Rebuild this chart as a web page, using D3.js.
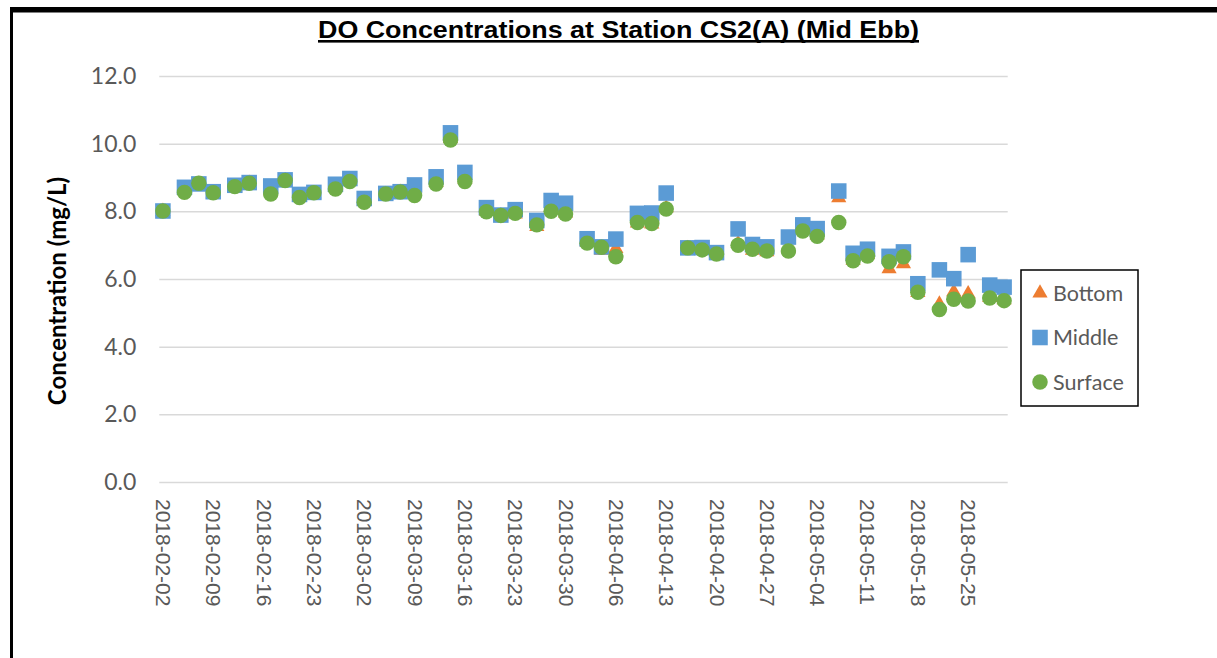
<!DOCTYPE html>
<html>
<head>
<meta charset="utf-8">
<script src="https://cdn.jsdelivr.net/npm/d3@7"></script>
<style>
	body { margin: 0; background: #fff; }
	#chart { width: 1217px; height: 658px; }
</style>
</head>
<body>
<div id="chart"></div>
<script>
"use strict"

// sampling days (Mon / Wed / Fri)
const dates = [
	"2018-02-02","2018-02-05","2018-02-07","2018-02-09","2018-02-12","2018-02-14","2018-02-17",
	"2018-02-19","2018-02-21","2018-02-23","2018-02-26","2018-02-28","2018-03-02","2018-03-05",
	"2018-03-07","2018-03-09","2018-03-12","2018-03-14","2018-03-16","2018-03-19","2018-03-21",
	"2018-03-23","2018-03-26","2018-03-28","2018-03-30","2018-04-02","2018-04-04","2018-04-06",
	"2018-04-09","2018-04-11","2018-04-13","2018-04-16","2018-04-18","2018-04-20","2018-04-23",
	"2018-04-25","2018-04-27","2018-04-30","2018-05-02","2018-05-04","2018-05-07","2018-05-09",
	"2018-05-11","2018-05-14","2018-05-16","2018-05-18","2018-05-21","2018-05-23","2018-05-25",
	"2018-05-28","2018-05-30"
];

const bottomVals = [
	8.00, 8.62, 8.80, 8.52, 8.72, 8.83, 8.60, 8.90, 8.42, 8.52, 8.70, 8.90, 8.30, 8.50,
	8.56, 8.55, 8.85, 10.15, 8.95, 8.00, 7.86, 7.92, 7.55, 8.05, 7.95, 7.08, 6.85, 6.90,
	7.65, 7.62, 8.10, 6.90, 6.88, 6.72, 7.05, 6.85, 6.80, 6.90, 7.45, 7.30, 8.40, 6.55,
	6.72, 6.30, 6.45, 5.60, 5.26, 5.62, 5.56, 5.45, 5.38
];

const middleVals = [
	8.01, 8.71, 8.81, 8.58, 8.77, 8.85, 8.75, 8.93, 8.50, 8.56, 8.80, 8.97, 8.38, 8.53,
	8.58, 8.78, 9.02, 10.32, 9.15, 8.11, 7.89, 8.05, 7.73, 8.32, 8.24, 7.19, 6.95, 7.18,
	7.94, 7.95, 8.54, 6.92, 6.93, 6.78, 7.48, 7.02, 6.95, 7.24, 7.60, 7.49, 8.60, 6.76,
	6.88, 6.67, 6.80, 5.86, 6.27, 6.01, 6.72, 5.82, 5.76
];

const surfaceVals = [
	8.01, 8.56, 8.83, 8.55, 8.73, 8.83, 8.51, 8.91, 8.41, 8.55, 8.66, 8.88, 8.27, 8.51,
	8.57, 8.47, 8.81, 10.11, 8.88, 7.99, 7.88, 7.94, 7.60, 8.00, 7.92, 7.06, 6.94, 6.66,
	7.67, 7.64, 8.07, 6.92, 6.86, 6.74, 7.00, 6.88, 6.83, 6.83, 7.42, 7.26, 7.67, 6.54,
	6.68, 6.51, 6.66, 5.61, 5.10, 5.40, 5.35, 5.44, 5.36
];

const tickDates = [
	"2018-02-02","2018-02-09","2018-02-16","2018-02-23","2018-03-02","2018-03-09","2018-03-16",
	"2018-03-23","2018-03-30","2018-04-06","2018-04-13","2018-04-20","2018-04-27","2018-05-04",
	"2018-05-11","2018-05-18","2018-05-25"
];
const yTicks = [0, 2, 4, 6, 8, 10, 12];
const seriesNames = ["Bottom", "Middle", "Surface"];

let ChartView = function(targetID) {
	let self = {
		target: null,
		svg: null,
		left: 159.3,
		right: 1007.7,
		top: 76,
		bottom: 482,
		xScale: d3.scaleUtc(),
		yScale: d3.scaleLinear(),
		colors: ["#ED7D31", "#5B9BD5", "#70AD47"],
		symbols: [
			d3.symbol().type(d3.symbolTriangle).size(100),
			d3.symbol().type(d3.symbolSquare).size(242),
			d3.symbol().type(d3.symbolCircle).size(188)
		],
	};

	const parse = d3.utcParse("%Y-%m-%d");

	function draw() {
		self.target = d3.select(targetID);
		self.svg = self.target.append("svg")
			.attr("width", 1217)
			.attr("height", 658);

		// day centred: shift half a day so a date sits in the middle of its band
		self.xScale.domain([new Date(Date.UTC(2018, 1, 1, 12)), new Date(Date.UTC(2018, 4, 30, 12))])
			.range([self.left, self.right]);
		self.yScale.domain([0, 12]).range([self.bottom, self.top]);

		// frame (top + left edges only show in the crop)
		self.svg.append("rect").attr("x", 10).attr("y", 7).attr("width", 1207).attr("height", 5.5).attr("fill", "#000");
		self.svg.append("rect").attr("x", 10).attr("y", 7).attr("width", 3).attr("height", 651).attr("fill", "#000");

		// title
		let title = self.svg.append("text")
			.attr("x", 618.5)
			.attr("y", 37.5)
			.attr("text-anchor", "middle")
			.attr("font-family", "'Liberation Sans', Arial, sans-serif")
			.attr("font-weight", "bold")
			.attr("font-size", 24.5)
			.text("DO Concentrations at Station CS2(A) (Mid Ebb)");
		title.attr("textLength", 601).attr("lengthAdjust", "spacingAndGlyphs");
		// underline drawn by hand so it follows the stretched length
		self.svg.append("rect")
			.attr("x", 318).attr("y", 40)
			.attr("width", 601).attr("height", 2.6)
			.attr("fill", "#000");

		// y axis + gridlines
		let yAxis = self.svg.append("g")
			.attr("transform", `translate(${self.left},0)`)
			.call(d3.axisLeft(self.yScale)
				.tickValues(yTicks)
				.tickSize(-(self.right - self.left))
				.tickPadding(23)
				.tickFormat(d3.format(".1f")));
		yAxis.select(".domain").remove();
		yAxis.selectAll("line").attr("stroke", "#d9d9d9").attr("stroke-width", 1.5);
		yAxis.selectAll("text")
			.attr("fill", "#595959")
			.attr("font-family", "Lato, sans-serif")
			.attr("font-size", 23);

		// x axis labels
		let xAxis = self.svg.append("g")
			.attr("transform", `translate(0,${self.bottom})`)
			.call(d3.axisBottom(self.xScale)
				.tickValues(tickDates.map(parse))
				.tickSize(0)
				.tickFormat(d3.utcFormat("%Y-%m-%d")));
		xAxis.select(".domain").remove();
		xAxis.selectAll("text")
			.attr("transform", "rotate(90)")
			.attr("x", 17)
			.attr("y", 0)
			.attr("dy", null)
			.attr("dominant-baseline", "central")
			.attr("text-anchor", "start")
			.attr("fill", "#595959")
			.attr("font-family", "'Liberation Sans', Arial, sans-serif")
			.attr("font-size", 21);

		// y title
		self.svg.append("text")
			.attr("transform", "translate(66,291) rotate(-90)")
			.attr("text-anchor", "middle")
			.attr("font-family", "Lato, sans-serif")
			.attr("font-weight", "bold")
			.attr("font-size", 24)
			.text("Concentration (mg/L)");

		// points, bottom first so surface sits on top
		let series = [bottomVals, middleVals, surfaceVals];
		series.forEach((vals, i) => {
			self.svg.append("g")
				.selectAll("path")
				.data(vals.map((v, j) => ({date: parse(dates[j]), value: v})))
				.enter().append("path")
					.attr("transform", d => `translate(${self.xScale(d.date)},${self.yScale(d.value)})`)
					.attr("d", self.symbols[i])
					.attr("fill", self.colors[i]);
		});

		drawLegend();
	}

	function drawLegend() {
		let lg = self.svg.append("g");
		lg.append("rect")
			.attr("x", 1021).attr("y", 270)
			.attr("width", 117).attr("height", 136)
			.attr("fill", "#fff")
			.attr("stroke", "#000")
			.attr("stroke-width", 1.5);

		let item = lg.selectAll(".item")
			.data(seriesNames)
			.enter().append("g")
				.attr("class", "item")
				.attr("transform", (d, i) => `translate(1040,${293 + i * 44.5})`);

		item.append("path")
			.attr("d", (d, i) => self.symbols[i]())
			.attr("fill", (d, i) => self.colors[i]);

		item.append("text")
			.attr("x", 13)
			.attr("dy", "0.35em")
			.attr("fill", "#595959")
			.attr("font-family", "Lato, sans-serif")
			.attr("font-size", 21.5)
			.text(d => d);
	}

	return { draw };
}

ChartView("#chart").draw();
</script>
</body>
</html>
